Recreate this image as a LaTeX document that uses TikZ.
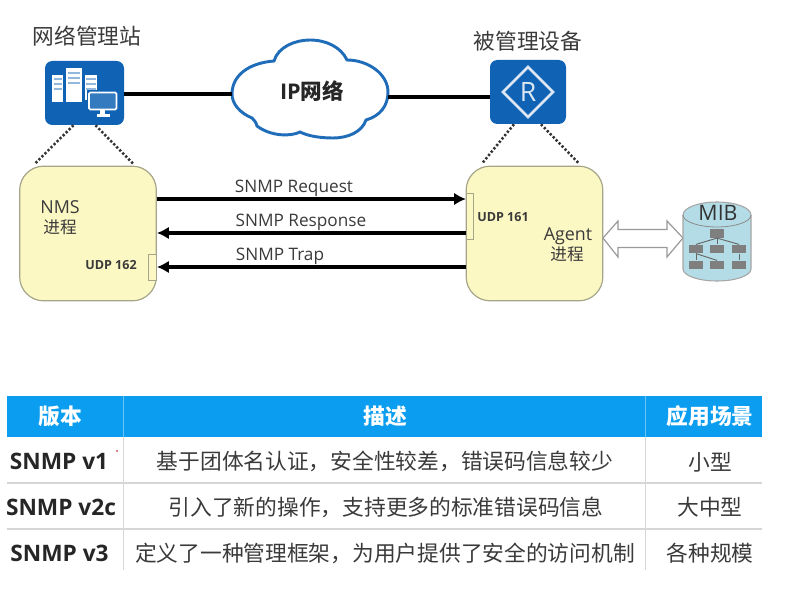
\documentclass[tikz,border=0pt]{standalone}
\usepackage{fontspec}
\setmainfont{Open Sans}
\newfontfamily\cjk{Noto Sans CJK SC}
\usetikzlibrary{calc,arrows.meta}
\definecolor{hwblue}{HTML}{0F62B4}
\definecolor{cloudblue}{HTML}{1F6DB8}
\definecolor{procfill}{HTML}{FCF8C4}
\definecolor{procline}{HTML}{A5A58A}
\definecolor{headblue}{HTML}{0A9DF0}
\definecolor{rowline}{HTML}{D4D6D8}
\definecolor{txt}{HTML}{3A3A3A}
\definecolor{mibfill}{HTML}{B4DCE6}
\definecolor{mibbox}{HTML}{7F7F7F}
\tikzset{
  icon/.style={fill=hwblue,rounded corners=5.5pt,inner sep=0pt},
  process/.style={fill=procfill,draw=procline,line width=.9pt,rounded corners=18pt,inner sep=0pt,minimum width=102.5pt,minimum height=101pt},
  link/.style={line width=2.5pt,black},
  msg/.style={line width=2.5pt,black,-{Latex[length=9pt,width=9.5pt]}},
  tether/.style={line width=1.9pt,black!80,dash pattern=on 1.7pt off 1.5pt},
  port/.style={fill=procfill,draw=procline,line width=.7pt,inner sep=0pt},
  lbl/.style={text=txt,inner sep=0pt,font=\fontsize{12.9}{15}\selectfont},
  title/.style={text=txt,inner sep=0pt,font=\cjk\fontsize{16.3}{18}\selectfont},
  udp/.style={text=txt,inner sep=0pt,font=\bfseries\fontsize{9.4}{11}\selectfont},
  head/.style={text=white,inner sep=0pt,font=\cjk\bfseries\fontsize{16.3}{18}\selectfont},
  cell/.style={text=txt,inner sep=0pt,font=\cjk\fontsize{16.3}{18}\selectfont},
  ver/.style={text=black!85,inner sep=0pt,font=\bfseries\fontsize{17}{19}\selectfont},
  treebox/.style={fill=mibbox,inner sep=0pt,minimum width=10.5pt,minimum height=6.5pt},
  treeline/.style={line width=.7pt,black!60},
}
\begin{document}
\begin{tikzpicture}[x=.75pt,y=-.75pt]
\useasboundingbox (0,0) rectangle (804,599);

% management station icon
\node[icon,minimum width=59.25pt,minimum height=48pt] (nms) at (84.5,93) {};
\fill[white] (52,75) rectangle (63,102);
\fill[white] (66,68.5) rectangle (82,102);
\fill[white] (84.5,75) rectangle (97,100);
\foreach \yy in {78,83,88}{
  \fill[hwblue!45] (53.5,\yy) rectangle (61.5,\yy+2.5);
  \fill[hwblue!45] (86,\yy) rectangle (95.5,\yy+2.5);
}
\foreach \yy in {72,77,82}{ \fill[hwblue!45] (68,\yy) rectangle (80,\yy+2.5); }
\fill[hwblue] (86.5,90) rectangle (118.5,112);
\draw[white,line width=1.2pt,rounded corners=1pt,fill=hwblue!85!white] (89,92.5) rectangle (116.5,109.5);
\fill[white] (100,110) rectangle (105,114);
\fill[white] (96.5,114.5) rectangle (109.5,117);

% managed device icon
\node[icon,minimum width=57pt,minimum height=48pt] (dev) at (528,92) {};
\draw[white!85!hwblue,line width=1.9pt] (528,67) -- (553,92) -- (528,117) -- (503,92) -- cycle;
\node[text=white!85!hwblue,inner sep=0pt,font=\fontsize{20}{22}\selectfont] (rlabel) at (528,92) {R};

% cloud outline and the network link through it
\coordinate (cloudL) at (232,94);
\coordinate (cloudR) at (388,97);
\draw[cloudblue,line width=2.2pt,fill=white]
  (cloudL) .. controls (232,76) and (248,63) .. (274,61)
  .. controls (278,47) and (295,40) .. (310,40)
  .. controls (326,40) and (341,47) .. (347,60)
  .. controls (368,60) and (388,74) .. (388,92)
  .. controls (388,106) and (380,116) .. (366,120)
  .. controls (362,132) and (348,138) .. (333,138)
  .. controls (320,138) and (308,136) .. (300,132)
  .. controls (290,137) and (270,136) .. (257,126)
  .. controls (256,122) and (254,120) .. (252,118)
  .. controls (240,113) and (232,104) .. (cloudL) -- cycle;
\node[inner sep=0pt,text=black!85,font=\bfseries\fontsize{16.2}{18}\selectfont] (ipnet) at (312,91) {IP{\cjk 网络}};
\draw[link] (nms.east |- cloudL) -- (cloudL);
\draw[link] (cloudR) -- (dev.west |- cloudR);

\node[title] (nmstitle) at (87,36) {网络管理站};
\node[title] (devtitle) at (528,41) {被管理设备};

% process boxes
\node[process] (nmsp) at (88,233.5) {};
\node[process] (agent) at (534.5,233.5) {};
\draw[tether] ($(nms.south)+(-11,0)$) -- ($(nmsp.north)+(-53,-2)$);
\draw[tether] ($(nms.south)+(11,0)$) -- ($(nmsp.north)+(45,-2)$);
\draw[tether] ($(dev.south)+(-14,0)$) -- ($(agent.north)+(-52.5,-2)$);
\draw[tether] ($(dev.south)+(13,0)$) -- ($(agent.north)+(44.5,-2)$);

% UDP ports on the process boxes
\node[port,minimum width=5.4pt,minimum height=35pt] (p161) at (470,216.5) {};
\node[port,minimum width=5.4pt,minimum height=19.5pt] (p162) at (152.5,267) {};
\node[udp] (u161) at (503,217) {UDP 161};
\node[udp] (u162) at (111,265) {UDP 162};

% SNMP messages
\coordinate (a1) at (nmsp.east |- 0,199);
\coordinate (b1) at (466,199);
\coordinate (a2) at (nmsp.east |- 0,233);
\coordinate (b2) at (agent.west |- 0,233);
\coordinate (a3) at (nmsp.east |- 0,267);
\coordinate (b3) at (agent.west |- 0,267);
\draw[msg] (a1) -- (b1);
\draw[msg] (b2) -- (a2);
\draw[msg] (b3) -- (a3);
\node[lbl] (m1) at (294,188.5) {SNMP Request};
\node[lbl] (m2) at (301,222.5) {SNMP Response};
\node[lbl] (m3) at (280,256) {SNMP Trap};

\node[lbl,font=\fontsize{13.4}{15}\selectfont] (nmsname) at (60,207) {NMS};
\node[lbl,font=\cjk\fontsize{12.5}{14}\selectfont] (nmszh) at (60,227) {进程};
\node[lbl,font=\fontsize{13.4}{15}\selectfont] (agname) at (568,236) {Agent};
\node[lbl,font=\cjk\fontsize{12.5}{14}\selectfont] (agzh) at (567,254) {进程};

% hollow double arrow towards the MIB
\draw[fill=white,draw=black!40,line width=.9pt]
  (603,238) -- (618,221) -- (618,229.5) -- (667,229.5) -- (667,221) -- (683,238)
  -- (667,257) -- (667,247.5) -- (618,247.5) -- (618,257) -- cycle;

% MIB cylinder with its tree
\draw[draw=black!35,line width=.8pt,fill=mibfill]
  (683,215) -- (683,269) arc[start angle=180,end angle=0,x radius=34,y radius=12] -- (751,215)
  arc[start angle=0,end angle=-180,x radius=34,y radius=13] -- cycle;
\draw[draw=black!45,line width=.6pt] (683,215) arc[start angle=180,end angle=0,x radius=34,y radius=12];
\node[inner sep=0pt,text=black!80,font=\fontsize{16}{18}\selectfont] (mib) at (718,213) {MIB};
\node[treebox] (t0) at (717,233.5) {};
\node[treebox] (t1) at (696,249) {};
\node[treebox] (t2) at (717,249) {};
\node[treebox] (t3) at (739,249) {};
\node[treebox] (t4) at (696,265) {};
\node[treebox] (t5) at (717,265) {};
\node[treebox] (t6) at (739,265) {};
\draw[treeline] (t0.south) -- (t1.north);
\draw[treeline] (t0.south) -- (t2.north);
\draw[treeline] (t0.south) -- (t3.north);
\draw[treeline] (t1.south) -- (t4.north);
\draw[treeline] (t1.south) -- (t5.north);
\draw[treeline] (t3.south) -- (t6.north);

% version table
\fill[headblue] (7,396) rectangle (762,437);
\draw[rowline,line width=.8pt] (7,483) -- (762,483);
\draw[rowline,line width=.8pt] (7,529) -- (762,529);
\draw[rowline,line width=.9pt] (123.5,437) -- (123.5,570);
\draw[rowline,line width=.9pt] (645.5,437) -- (645.5,570);
\draw[headblue!60!white,line width=.7pt] (123.5,396) -- (123.5,437);
\draw[headblue!60!white,line width=.7pt] (645.5,396) -- (645.5,437);

\node[head] (h1) at (60,416) {版本};
\node[head] (h2) at (385,416) {描述};
\node[head] (h3) at (710,416) {应用场景};

\node[ver] (v1) at (59,461) {SNMP v1};
\node[ver] (v2) at (61,507) {SNMP v2c};
\node[ver] (v3) at (59.5,553) {SNMP v3};
\fill[red!80!black] (117,451) circle (.8);

\node[cell] (d1) at (385,461.5) {基于团体名认证，安全性较差，错误码信息较少};
\node[cell] (d2) at (386,507.5) {引入了新的操作，支持更多的标准错误码信息};
\node[cell] (d3) at (385,553.5) {定义了一种管理框架，为用户提供了安全的访问机制};
\node[cell] (s1) at (710,462) {小型};
\node[cell] (s2) at (710,507.5) {大中型};
\node[cell] (s3) at (710,553.5) {各种规模};
\end{tikzpicture}
\end{document}
